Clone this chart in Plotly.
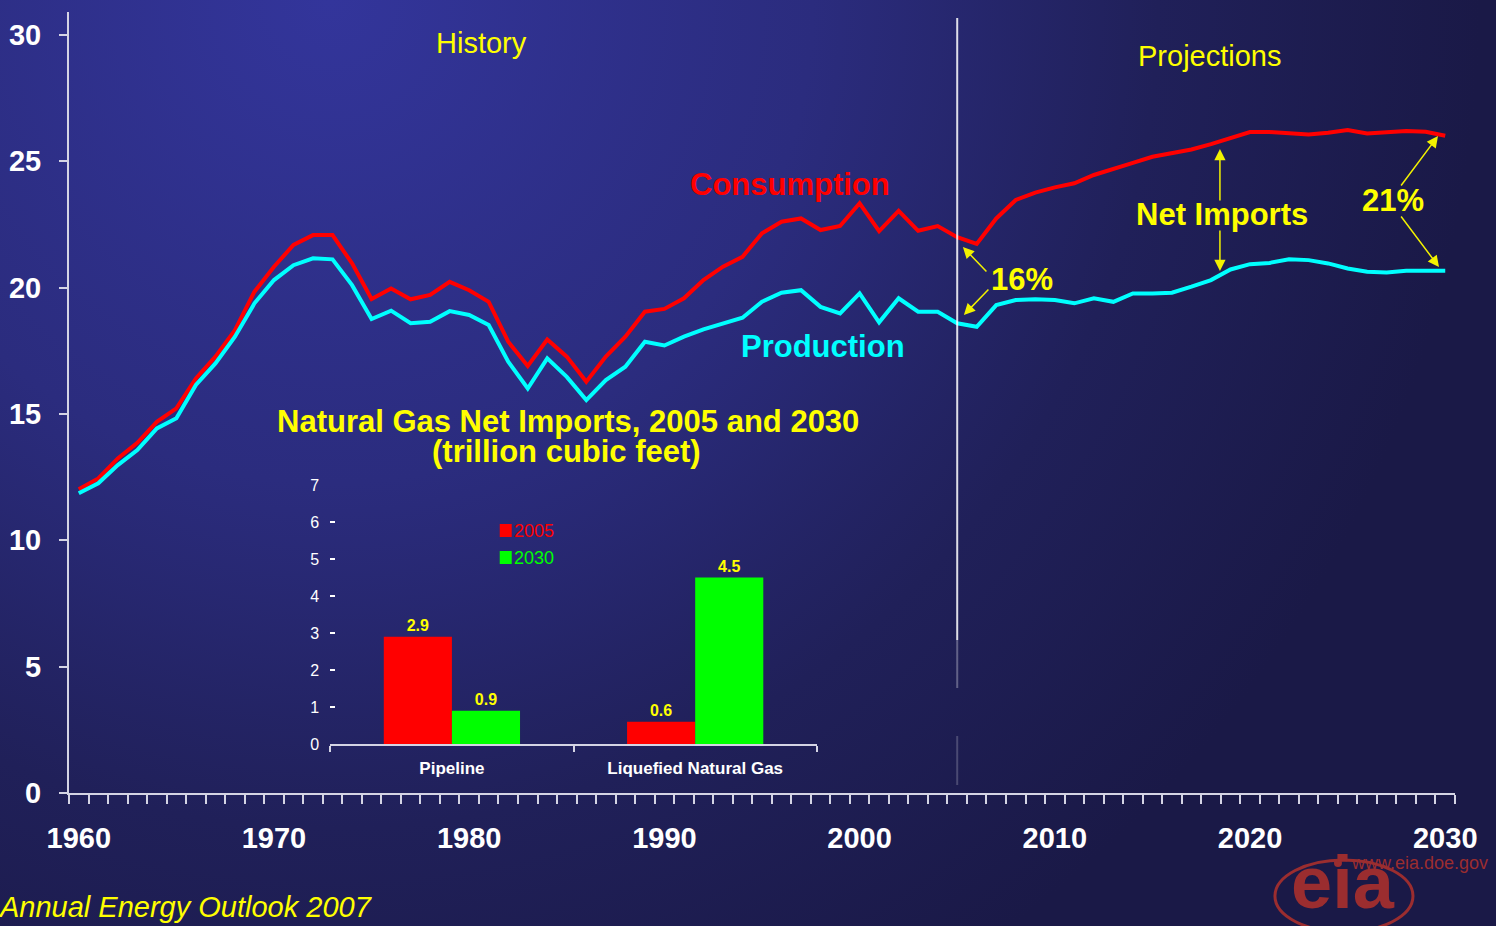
import base64
import plotly.graph_objects as go

# ---------------- data ----------------
years = list(range(1960, 2031))
consumption = [
    12.02, 12.45, 13.24, 13.86, 14.69, 15.22, 16.41, 17.27, 18.32, 19.84,
    20.83, 21.69, 22.08, 22.08, 20.96, 19.55, 19.97, 19.54, 19.71, 20.23,
    19.90, 19.44, 17.86, 16.90, 17.95, 17.27, 16.28, 17.27, 18.06, 19.05,
    19.16, 19.58, 20.30, 20.83, 21.22, 22.15, 22.61, 22.74, 22.28, 22.44,
    23.34, 22.24, 23.04, 22.25, 22.44, 22.00, 21.73, 22.74, 23.47, 23.76,
    23.97, 24.13, 24.46, 24.68, 24.94, 25.18, 25.31, 25.47, 25.68, 25.91,
    26.16, 26.16, 26.10, 26.06, 26.13, 26.24, 26.10, 26.17, 26.20, 26.17, 26.01,
]
production = [
    11.86, 12.26, 12.98, 13.57, 14.43, 14.83, 16.15, 17.00, 18.06, 19.38,
    20.30, 20.89, 21.16, 21.12, 20.10, 18.76, 19.09, 18.59, 18.65, 19.07,
    18.92, 18.52, 17.07, 16.01, 17.20, 16.47, 15.55, 16.34, 16.87, 17.86,
    17.71, 18.06, 18.35, 18.59, 18.81, 19.44, 19.80, 19.90, 19.24, 18.98,
    19.77, 18.63, 19.58, 19.05, 19.05, 18.59, 18.45, 19.31, 19.51, 19.54,
    19.51, 19.38, 19.58, 19.44, 19.77, 19.77, 19.80, 20.04, 20.30, 20.72,
    20.93, 20.98, 21.12, 21.09, 20.96, 20.76, 20.63, 20.60, 20.67, 20.67, 20.67,
]
y_tick_values = [0, 5, 10, 15, 20, 25, 30]
x_tick_years = [1960, 1970, 1980, 1990, 2000, 2010, 2020, 2030]

bar_categories = ["Pipeline", "Liquefied Natural Gas"]
imports_2005 = [2.9, 0.6]
imports_2030 = [0.9, 4.5]
labels_2005 = ["2.9", "0.6"]
labels_2030 = ["0.9", "4.5"]
inset_ticks = [0, 1, 2, 3, 4, 5, 6, 7]

# ---------------- geometry helpers (pixel -> paper) ----------------
W, H = 1496, 926
L, R, T, B = 69.4, 1455.0, 12.0, 793.0
PW, PH = R - L, B - T


def px(x):
    return (x - L) / PW


def py(y):
    return (B - y) / PH


def dx(x):  # pixel -> year coordinate
    return 1959.5 + (x - L) / (PW / 71.0)


def dy(y):  # pixel -> value
    return (B - y) / (PH / 30.91)


FONT = "Liberation Sans, Arial, sans-serif"
YEL = "#ffff00"
AXC = "#d4d4e4"
LOGO = "#9b2d2f"

fig = go.Figure()

fig.add_trace(go.Scatter(x=years, y=consumption, mode="lines", name="Consumption",
                         line=dict(color="#ff0000", width=4), showlegend=False,
                         xaxis="x", yaxis="y"))
fig.add_trace(go.Scatter(x=years, y=production, mode="lines", name="Production",
                         line=dict(color="#00ffff", width=4), showlegend=False,
                         xaxis="x", yaxis="y"))

fig.add_trace(go.Bar(x=bar_categories, y=imports_2005, name="2005", marker_color="#ff0000",
                     marker_line_width=0, text=labels_2005, textposition="outside",
                     textfont=dict(color=YEL, size=16, family=FONT, weight="bold"),
                     cliponaxis=False, showlegend=False, xaxis="x2", yaxis="y2"))
fig.add_trace(go.Bar(x=bar_categories, y=imports_2030, name="2030", marker_color="#00ff00",
                     marker_line_width=0, text=labels_2030, textposition="outside",
                     textfont=dict(color=YEL, size=16, family=FONT, weight="bold"),
                     cliponaxis=False, showlegend=False, xaxis="x2", yaxis="y2"))

# ---------------- background gradient ----------------
svg = (
    '<svg xmlns="http://www.w3.org/2000/svg" width="1496" height="926" viewBox="0 0 1496 926">'
    '<defs><radialGradient id="g" gradientUnits="userSpaceOnUse" cx="330" cy="0" r="1150">'
    '<stop offset="0" stop-color="#33359b"/>'
    '<stop offset="0.42" stop-color="#2b2c7e"/>'
    '<stop offset="0.72" stop-color="#202059"/>'
    '<stop offset="1" stop-color="#1a1947"/>'
    '</radialGradient></defs>'
    '<rect width="1496" height="926" fill="url(#g)"/></svg>'
)
src = "data:image/svg+xml;base64," + base64.b64encode(svg.encode()).decode()

shapes = []
# vertical history/projection divider at 2005
for y0p, y1p, col in [(640, 18, "rgba(255,255,255,0.85)"),
                      (688, 640, "rgba(255,255,255,0.3)"),
                      (785, 736, "rgba(255,255,255,0.2)")]:
    shapes.append(dict(type="line", xref="x", yref="y", x0=2005, x1=2005,
                       y0=dy(y0p), y1=dy(y1p), line=dict(color=col, width=2)))
# inset legend squares
shapes.append(dict(type="rect", xref="paper", yref="paper", x0=px(500), x1=px(512),
                   y0=py(537), y1=py(524), fillcolor="#ff0000", line=dict(width=0)))
shapes.append(dict(type="rect", xref="paper", yref="paper", x0=px(500), x1=px(512),
                   y0=py(564), y1=py(551), fillcolor="#00ff00", line=dict(width=0)))
# eia logo ellipse and dot
shapes.append(dict(type="circle", xref="paper", yref="paper", x0=px(1275), x1=px(1413),
                   y0=py(932), y1=py(860), line=dict(color=LOGO, width=3)))
shapes.append(dict(type="circle", xref="paper", yref="paper", x0=px(1334), x1=px(1342),
                   y0=py(867), y1=py(859), fillcolor=LOGO, line=dict(width=0)))

annotations = []


def txt(x, y, s, color, size, weight="normal", xanchor="center", style="normal",
        yanchor="middle"):
    annotations.append(dict(xref="paper", yref="paper", x=px(x), y=py(y), text=s,
                            showarrow=False, xanchor=xanchor, yanchor=yanchor,
                            font=dict(family=FONT, size=size, color=color,
                                      weight=weight, style=style)))


txt(482, 43, "History", YEL, 29)
txt(1210, 56, "Projections", YEL, 29)
txt(790, 184, "Consumption", "#ff0000", 31, "bold")
txt(823, 346, "Production", "#00ffff", 31, "bold")
txt(1222, 214, "Net Imports", YEL, 31, "bold")
txt(1393, 201, "21%", YEL, 31, "bold")
txt(1022, 279, "16%", YEL, 31, "bold")
txt(568, 421, "Natural Gas Net Imports, 2005 and 2030", YEL, 31, "bold")
txt(567, 451, "(trillion cubic feet)", YEL, 31, "bold")
txt(-4, 907, "Annual Energy Outlook 2007", YEL, 29, xanchor="left", style="italic")
txt(512, 531, "2005", "#ff0000", 18, xanchor="left")
txt(512, 558, "2030", "#00ff00", 18, xanchor="left")
txt(1343, 926, "eia", LOGO, 74, "bold", yanchor="bottom")
txt(1349, 863, "www.eia.doe.gov", LOGO, 18, xanchor="left")


def arrow(tx, ty, hx, hy):
    annotations.append(dict(xref="x", yref="y", axref="x", ayref="y",
                            x=dx(hx), y=dy(hy), ax=dx(tx), ay=dy(ty), text="",
                            showarrow=True, arrowhead=2, arrowsize=1.5, arrowwidth=1.5,
                            arrowcolor="#f2f200", standoff=0, startstandoff=0))


arrow(1220, 202, 1220, 149)
arrow(1220, 229, 1220, 271)
arrow(1400, 187, 1438, 136)
arrow(1400, 215, 1439, 267)
arrow(988, 273, 963, 247)
arrow(990, 288, 964, 315)

fig.update_layout(
    width=W, height=H,
    margin=dict(l=L, r=W - R, t=T, b=H - B, pad=0, autoexpand=False),
    paper_bgcolor="#232363",
    plot_bgcolor="rgba(0,0,0,0)",
    images=[dict(source=src, xref="paper", yref="paper", x=px(0), y=py(0),
                 sizex=W / PW, sizey=H / PH, xanchor="left", yanchor="top",
                 sizing="stretch", layer="below")],
    shapes=shapes,
    annotations=annotations,
    barmode="group", bargap=0.44, bargroupgap=0,
    xaxis=dict(range=[1959.5, 2030.5], tickmode="array", tickvals=x_tick_years,
               ticktext=[str(v) for v in x_tick_years], ticks="", automargin=False,
               showline=True, linecolor=AXC, linewidth=2, showgrid=False, zeroline=False,
               tickfont=dict(family=FONT, size=29, color="white", weight="bold"),
               ticklabelstandoff=18,
               minor=dict(tickmode="array", tickvals=[1959.5 + k for k in range(72)],
                          ticks="outside", ticklen=9, tickwidth=1.5, tickcolor=AXC,
                          showgrid=False)),
    yaxis=dict(range=[0, 30.91], tickmode="array", tickvals=y_tick_values,
               ticks="outside", ticklen=8, tickwidth=2, tickcolor=AXC, automargin=False,
               showline=True, linecolor=AXC, linewidth=2, showgrid=False, zeroline=False,
               tickfont=dict(family=FONT, size=29, color="white", weight="bold"),
               ticklabelstandoff=12),
    xaxis2=dict(domain=[px(330.6), px(817)], anchor="y2", type="category",
                showline=True, linecolor=AXC, linewidth=2, showgrid=False,
                ticks="outside", tickson="boundaries", ticklen=6, tickwidth=1.5,
                tickcolor=AXC, ticklabelstandoff=8, automargin=False,
                tickfont=dict(family=FONT, size=17, color="white", weight="bold")),
    yaxis2=dict(domain=[py(744), py(485)], anchor="x2", range=[0, 7],
                tickmode="array", tickvals=inset_ticks, showline=False, showgrid=False,
                zeroline=False, ticks="inside", ticklen=5, tickwidth=1.5, tickcolor="white",
                ticklabelstandoff=10, automargin=False,
                tickfont=dict(family=FONT, size=16, color="white")),
)

fig.write_html("out.html", config={"displayModeBar": False},
               post_script="document.body.style.margin='0';document.body.style.overflow='hidden';")
